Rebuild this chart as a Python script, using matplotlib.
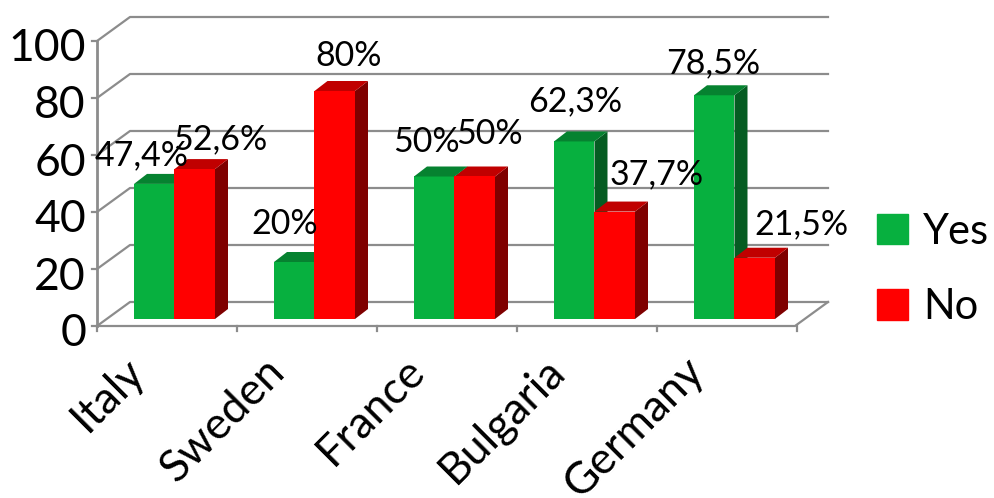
import matplotlib
matplotlib.use('Agg')
import matplotlib.pyplot as plt
from matplotlib.patches import Polygon, Patch

plt.rcParams['font.family'] = ['Lato', 'DejaVu Sans']

countries = ['Italy', 'Sweden', 'France', 'Bulgaria', 'Germany']
yes = [47.4, 20, 50, 62.3, 78.5]
no = [52.6, 80, 50, 37.7, 21.5]
yes_labels = ['47,4%', '20%', '50%', '62,3%', '78,5%']
no_labels = ['52,6%', '80%', '50%', '37,7%', '21,5%']
y_ticks = [0, 20, 40, 60, 80, 100]

# pixel offset of each label from the top middle of its bar
yes_offset = [(-13, 29), (-10, 38), (-8, 35), (1, 40), (-1, 32)]
no_offset = [(26, 30), (14, 35), (15, 42), (42, 37), (47, 33)]

GREEN = ['#07b03f', '#068230', '#055c22']
RED = ['#ff0000', '#c00000', '#7f0000']
GRID = '#8c8c8c'

# one axes over the whole figure, 140 px per category and 2.85 px per unit
XS = 140.0
YS = 2.85
X0 = 174.5
Y0 = 319
bar_w = 40.5 / XS
dep_x = 13 / XS
dep_y = 10 / YS

fig = plt.figure(figsize=(9.95, 4.98), dpi=100)
ax = fig.add_axes([0, 0, 1, 1])
ax.set_xlim(-X0 / XS, (995 - X0) / XS)
ax.set_ylim((Y0 - 498) / YS, Y0 / YS)
ax.axis('off')


def draw_bars(xs, vals, cols):
    ax.bar(xs, vals, bar_w, align='edge', color=cols[0], zorder=3)
    for x, v in zip(xs, vals):
        ax.add_patch(Polygon([(x, v), (x + bar_w, v), (x + bar_w + dep_x, v + dep_y), (x + dep_x, v + dep_y)],
                             fc=cols[1], ec='none', zorder=3))
        ax.add_patch(Polygon([(x + bar_w, 0), (x + bar_w + dep_x, dep_y), (x + bar_w + dep_x, v + dep_y), (x + bar_w, v)],
                             fc=cols[2], ec='none', zorder=2.5))


# walls
left = (97 - X0) / XS
back_l = (130 - X0) / XS
back_r = (828 - X0) / XS
front_r = (795 - X0) / XS
front_y = (Y0 - 326) / YS
back_y = (Y0 - 302) / YS
for v in y_ticks:
    ax.plot([left, back_l, back_r], [front_y + v, back_y + v, back_y + v], color=GRID, lw=1.6, zorder=1)
    ax.plot([left - 5 / XS, left], [front_y + v, front_y + v], color=GRID, lw=1.6, zorder=1)
    ax.text(left - 11 / XS, front_y + v - 8 / YS, str(v), ha='right', va='center', fontsize=32, color='black')
ax.plot([left, left], [front_y, front_y + 100], color=GRID, lw=2, zorder=1)
ax.plot([left, front_r, back_r], [front_y, front_y, back_y], color=GRID, lw=1.6, zorder=1)

for i in range(6):
    ax.plot([i - 0.55, i - 0.55], [front_y, front_y - 5 / YS], color=GRID, lw=1.6, zorder=1)

pos_yes = [i - bar_w for i in range(len(countries))]
pos_no = [i for i in range(len(countries))]
draw_bars(pos_no, no, RED)
draw_bars(pos_yes, yes, GREEN)
# red fronts have to sit over the green side faces
ax.bar(pos_no, no, bar_w, align='edge', color=RED[0], zorder=3.5)

for i in range(len(countries)):
    ax.annotate(yes_labels[i], (pos_yes[i] + bar_w / 2, yes[i]), xytext=yes_offset[i], textcoords='offset pixels',
                ha='center', va='center', fontsize=24.5, zorder=5)
    ax.annotate(no_labels[i], (pos_no[i] + bar_w / 2, no[i]), xytext=no_offset[i], textcoords='offset pixels',
                ha='center', va='center', fontsize=24.5, zorder=5)
    ax.text(i - 0.365, front_y - 24 / YS, countries[i], rotation=45, rotation_mode='anchor',
            ha='right', va='top', fontsize=32)

ax.legend(handles=[Patch(color=GREEN[0], label='Yes'), Patch(color=RED[0], label='No')],
          loc='center left', bbox_to_anchor=(877 / 995, 1 - 269.5 / 498), frameon=False, fontsize=30,
          handlelength=0.75, handleheight=0.75, handletextpad=0.36, labelspacing=0.9, borderpad=0, borderaxespad=0)

plt.savefig('out.png', dpi=100)
